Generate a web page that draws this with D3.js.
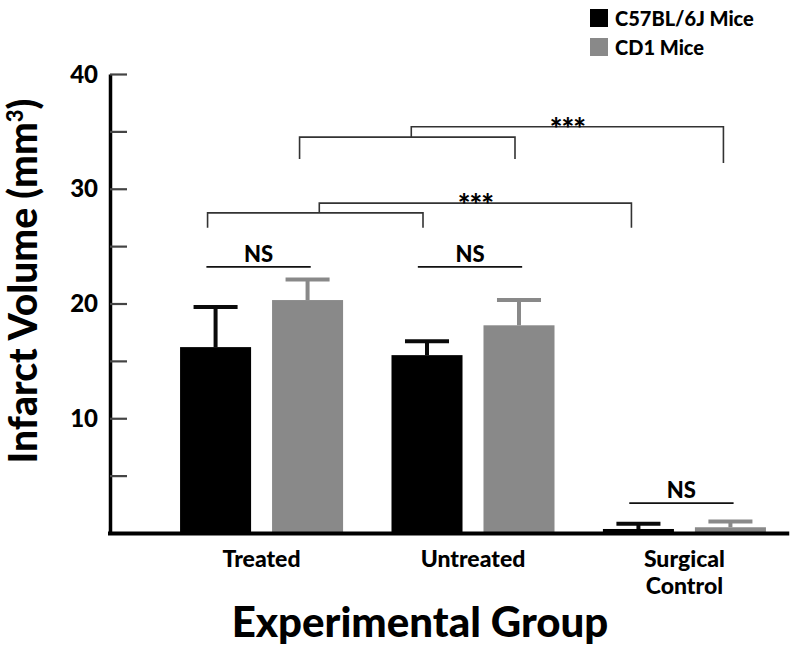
<!DOCTYPE html>
<html>
<head>
<meta charset="utf-8">
<script src="https://cdn.jsdelivr.net/npm/d3@7"></script>
<style>
  html, body { margin: 0; padding: 0; background: #fff; }
  svg { display: block; }
  text { font-family: "Lato", "Open Sans", sans-serif; font-weight: 900; fill: #000; }
</style>
</head>
<body>
<svg id="chart" width="793" height="649"></svg>
<script>
// ---- data ----
const groups = ["Treated", "Untreated", "Surgical Control"];
const series = ["C57BL/6J Mice", "CD1 Mice"];
const c57Values = [16.2, 15.5, 0.35];
const cd1Values = [20.3, 18.1, 0.5];
const c57Errors = [3.5, 1.2, 0.45];
const cd1Errors = [1.8, 2.2, 0.5];
const yTicks = [0, 5, 10, 15, 20, 25, 30, 35, 40];
const yTickLabels = ["", "", "10", "", "20", "", "30", "", "40"];
const nsLabels = ["NS", "NS", "NS"];
const nsLevels = [23.2, 23.2, 2.6];
// significance brackets: sub-bracket between two bars, long bracket from its middle to a target bar
const sigFrom = [[0, 1], [0, 0]];       // [group, series]
const sigTo = [[1, 1], [1, 0]];
const sigTarget = [[2, 1], [2, 0]];
const sigSubLevel = [34.5, 27.9];
const sigTopLevel = [35.4, 28.75];
const sigLegBottom = [32.6, 26.6];
const sigLabels = ["***", "***"];

const colors = ["#000000", "#898989"];
const errColors = ["#0a0a0a", "#898989"];

// ---- scales ----
const svg = d3.select("#chart");
const y = d3.scaleLinear().domain([0, 40]).range([533, 74]);
const x0 = d3.scaleBand().domain(groups).range([155.75, 790.25]).paddingInner(0.229).paddingOuter(0.115);
const x1 = d3.scaleBand().domain(series).range([0, x0.bandwidth()]).paddingInner(0.228);
const values = [c57Values, cd1Values];
const errors = [c57Errors, cd1Errors];
const cx = (g, s) => x0(groups[g]) + x1(series[s]) + x1.bandwidth() / 2;

// ---- bars ----
const barData = [];
groups.forEach((g, gi) => series.forEach((s, si) => barData.push({gi, si, v: values[si][gi], e: errors[si][gi]})));

const eb = svg.append("g");
barData.forEach(d => {
  const c = cx(d.gi, d.si);
  const capW = x1.bandwidth() * 0.62;
  eb.append("line").attr("x1", c).attr("x2", c)
    .attr("y1", y(d.v)).attr("y2", y(d.v + d.e))
    .attr("stroke", errColors[d.si]).attr("stroke-width", 4);
  eb.append("line").attr("x1", c - capW / 2).attr("x2", c + capW / 2)
    .attr("y1", y(d.v + d.e)).attr("y2", y(d.v + d.e))
    .attr("stroke", errColors[d.si]).attr("stroke-width", 4);
});

svg.append("g").selectAll("rect").data(barData).join("rect")
  .attr("x", d => x0(groups[d.gi]) + x1(series[d.si]))
  .attr("y", d => y(d.v))
  .attr("width", x1.bandwidth())
  .attr("height", d => y(0) - y(d.v))
  .attr("fill", d => colors[d.si]);

// ---- y axis ----
const yAxis = d3.axisLeft(y).tickValues(yTicks)
  .tickFormat((d, i) => yTickLabels[i])
  .tickSizeInner(-17).tickSizeOuter(0).tickPadding(12);
const ya = svg.append("g").attr("transform", "translate(110,0)").call(yAxis);
ya.select(".domain").attr("stroke", "#000").attr("stroke-width", 3.5);
ya.selectAll(".tick line").attr("stroke", "#444").attr("stroke-width", 2.2);
ya.selectAll(".tick text").attr("font-size", 24).attr("font-family", "Lato, sans-serif").attr("font-weight", 900).attr("fill", "#000").attr("dy", "0.34em");

// baseline
svg.append("line").attr("x1", 108).attr("x2", x0.range()[1] - 1)
  .attr("y1", y(0) + 0.5).attr("y2", y(0) + 0.5)
  .attr("stroke", "#000").attr("stroke-width", 4);

// ---- x labels ----
const xl = svg.append("g");
groups.forEach(g => {
  const words = g.split(" ");
  const t = xl.append("text").attr("x", x0(g) + x0.bandwidth() / 2).attr("y", 567)
    .attr("text-anchor", "middle").attr("font-size", 23);
  words.forEach((w, i) => t.append("tspan").attr("x", x0(g) + x0.bandwidth() / 2).attr("dy", i === 0 ? 0 : 27).text(w));
});

svg.append("text").attr("x", 420).attr("y", 637).attr("text-anchor", "middle")
  .attr("font-size", 42).text("Experimental Group");

const yt = svg.append("text").attr("transform", "translate(37,281) rotate(-90)")
  .attr("text-anchor", "middle").attr("font-size", 39);
yt.append("tspan").text("Infarct Volume (mm");
yt.append("tspan").attr("font-size", 22).attr("dy", -14).text("3");
yt.append("tspan").attr("dy", 14).text(")");

// ---- NS annotations ----
groups.forEach((g, gi) => {
  const c = x0(g) + x0.bandwidth() / 2;
  const half = x0.bandwidth() * 0.32;
  svg.append("line").attr("x1", c - half - 3).attr("x2", c + half - 3)
    .attr("y1", y(nsLevels[gi])).attr("y2", y(nsLevels[gi]))
    .attr("stroke", "#111").attr("stroke-width", 1.8);
  svg.append("text").attr("x", c - 3).attr("y", y(nsLevels[gi]) - 5)
    .attr("text-anchor", "middle").attr("font-size", 22).text(nsLabels[gi]);
});

// ---- significance brackets ----
sigLabels.forEach((lab, i) => {
  const xa = cx(...sigFrom[i]) - 8, xb = cx(...sigTo[i]) - 4, xt = cx(...sigTarget[i]) - 7;
  const mid = (xa + xb) / 2 + 4;
  const ySub = y(sigSubLevel[i]), yTop = y(sigTopLevel[i]), yLeg = y(sigLegBottom[i]);
  const path = d3.path();
  path.moveTo(xa, yLeg); path.lineTo(xa, ySub); path.lineTo(xb, ySub); path.lineTo(xb, yLeg);
  path.moveTo(mid, ySub); path.lineTo(mid, yTop); path.lineTo(xt, yTop); path.lineTo(xt, yLeg + (i === 0 ? 4 : 0));
  svg.append("path").attr("d", path.toString()).attr("fill", "none")
    .attr("stroke", "#333").attr("stroke-width", 1.6);
  svg.append("text").attr("x", (mid + xt) / 2).attr("y", yTop + 13)
    .attr("text-anchor", "middle").attr("font-family", "DejaVu Sans, sans-serif")
    .attr("font-weight", 700).attr("font-size", 30).attr("letter-spacing", -1).attr("fill", "#222").text(lab);
});

// ---- legend ----
const lg = svg.append("g");
series.forEach((s, i) => {
  lg.append("rect").attr("x", 590).attr("y", 9 + i * 29).attr("width", 18).attr("height", 18).attr("fill", colors[i]);
  lg.append("text").attr("x", 615).attr("y", 26 + i * 29).attr("font-size", 20).text(s);
});
</script>
</body>
</html>
